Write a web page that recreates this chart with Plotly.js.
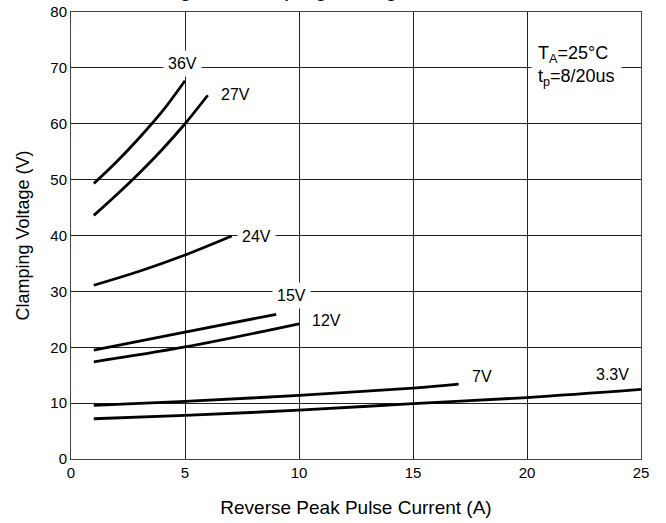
<!DOCTYPE html>
<html>
<head>
<meta charset="utf-8">
<script src="https://cdn.plot.ly/plotly-3.0.1.min.js"></script>
<style>html,body{margin:0;padding:0;background:#fff;}#chart{width:666px;height:523px;}</style>
</head>
<body>
<div id="chart"></div>
<script>
// Reverse peak pulse current (A) and clamping voltage (V) per device
const i36 = [1, 2, 3, 4, 5];
const v36 = [49.3, 53.2, 57.5, 62.2, 67.7];
const i27 = [1, 2, 3, 4, 5, 6];
const v27 = [43.6, 47.3, 51.2, 55.4, 60.0, 65.1];
const i24 = [1, 3, 5, 7.05];
const v24 = [31.1, 33.6, 36.5, 39.9];
const i15 = [1, 5, 9];
const v15 = [19.5, 22.7, 25.9];
const i12 = [1, 5, 10];
const v12 = [17.4, 20.05, 24.2];
const i7 = [1, 5, 10, 15, 17];
const v7 = [9.6, 10.3, 11.4, 12.7, 13.4];
const i33 = [1, 5, 10, 15, 20, 25];
const v33 = [7.2, 7.8, 8.75, 9.9, 11.0, 12.45];

const seriesNames = ['36V', '27V', '24V', '15V', '12V', '7V', '3.3V'];
const seriesX = [i36, i27, i24, i15, i12, i7, i33];
const seriesY = [v36, v27, v24, v15, v12, v7, v33];
// label anchor (data coords) for each series name
const labelX = [4.88, 7.23, 8.14, 9.65, 11.19, 18.04, 23.75];
const labelY = [70.8, 65.15, 39.75, 29.2, 24.8, 14.85, 15.1];

const xTicks = [0, 5, 10, 15, 20, 25];
const yTicks = [0, 10, 20, 30, 40, 50, 60, 70, 80];

const titleText = 'Fig. 2  Clamping Voltage vs. Reverse Peak Pulse Current';
const xTitle = 'Reverse Peak Pulse Current (A)';
const yTitle = 'Clamping Voltage (V)';
const condText = 'T<sub>A</sub>=25°C<br>t<sub>p</sub>=8/20us';

const FONT = 'Liberation Sans, Arial, sans-serif';

const traces = seriesNames.map((n, k) => ({
  x: seriesX[k], y: seriesY[k], name: n, type: 'scatter', mode: 'lines',
  line: {color: '#000', width: 2.8, shape: 'spline', smoothing: 1},
  hoverinfo: 'skip', showlegend: false
}));

const annotations = seriesNames.map((n, k) => ({
  x: labelX[k], y: labelY[k], xref: 'x', yref: 'y', text: n, showarrow: false,
  font: {family: FONT, size: 16, color: '#000'}, bgcolor: '#fff', borderpad: 4,
  xanchor: 'center', yanchor: 'middle'
}));
annotations.push({
  x: 22.15, y: 70.3, xref: 'x', yref: 'y', text: condText, showarrow: false, align: 'left',
  font: {family: FONT, size: 18, color: '#000'}, bgcolor: '#fff', borderpad: 6,
  xanchor: 'center', yanchor: 'middle'
});
annotations.push({
  x: 0.152, y: 1.02, xref: 'paper', yref: 'paper', text: titleText, showarrow: false,
  font: {family: FONT, size: 23, color: '#000'}, xanchor: 'left', yanchor: 'bottom'
});

const axisCommon = {
  showgrid: true, gridcolor: '#222', gridwidth: 1, zeroline: false,
  showline: true, linecolor: '#444', linewidth: 1, mirror: true,
  ticks: '', tickfont: {family: FONT, size: 15, color: '#000'}
};

const layout = {
  width: 666, height: 523,
  margin: {l: 71, r: 25, t: 12, b: 64},
  paper_bgcolor: '#fff', plot_bgcolor: '#fff',
  showlegend: false,
  xaxis: Object.assign({}, axisCommon, {
    range: [0, 25], tickvals: xTicks, ticktext: xTicks.map(String),
    title: {text: xTitle, font: {family: FONT, size: 19, color: '#000'}, standoff: 20}
  }),
  yaxis: Object.assign({}, axisCommon, {
    range: [0, 80], tickvals: yTicks, ticktext: yTicks.map(String),
    title: {text: yTitle, font: {family: FONT, size: 18, color: '#000'}, standoff: 16}
  }),
  annotations: annotations
};

Plotly.newPlot('chart', traces, layout, {displayModeBar: false, staticPlot: true});
</script>
</body>
</html>
